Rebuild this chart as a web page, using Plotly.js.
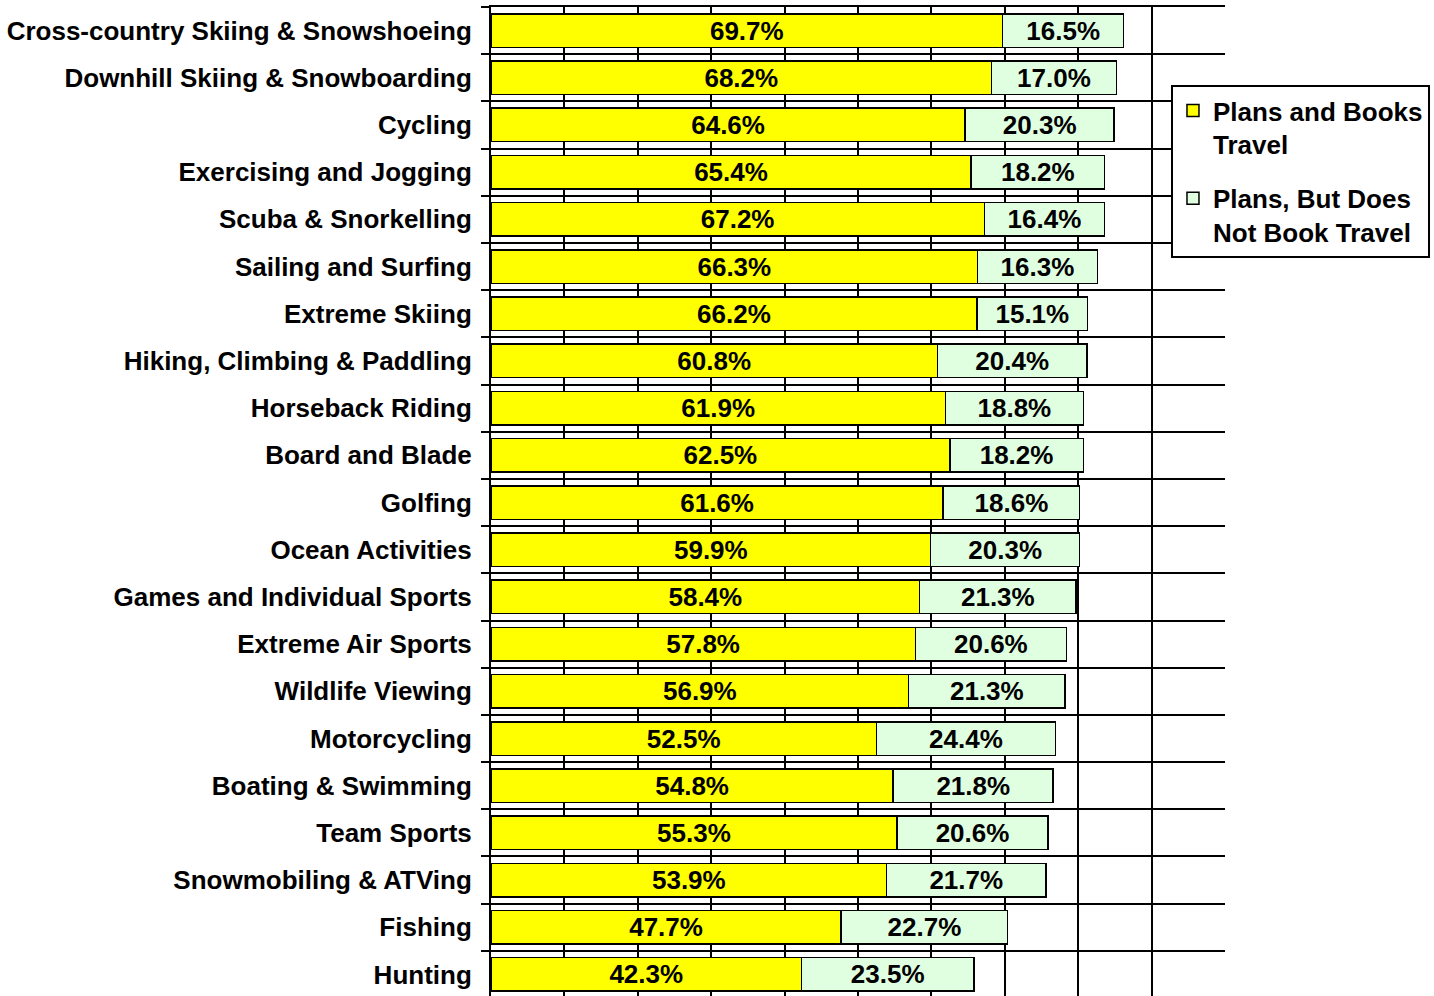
<!DOCTYPE html>
<html>
<head>
<meta charset="utf-8">
<script src="https://cdn.plot.ly/plotly-3.0.1.min.js"></script>
<style>
html, body { margin: 0; padding: 0; background: #ffffff; }
#chart { width: 1434px; height: 996px; }
</style>
</head>
<body>
<div id="chart"></div>
<script>
var categories = [
  "Cross-country Skiing & Snowshoeing",
  "Downhill Skiing & Snowboarding",
  "Cycling",
  "Exercising and Jogging",
  "Scuba & Snorkelling",
  "Sailing and Surfing",
  "Extreme Skiing",
  "Hiking, Climbing & Paddling",
  "Horseback Riding",
  "Board and Blade",
  "Golfing",
  "Ocean Activities",
  "Games and Individual Sports",
  "Extreme Air Sports",
  "Wildlife Viewing",
  "Motorcycling",
  "Boating & Swimming",
  "Team Sports",
  "Snowmobiling & ATVing",
  "Fishing",
  "Hunting"
];
var plansAndBooks = [69.7, 68.2, 64.6, 65.4, 67.2, 66.3, 66.2, 60.8, 61.9, 62.5, 61.6, 59.9, 58.4, 57.8, 56.9, 52.5, 54.8, 55.3, 53.9, 47.7, 42.3];
var plansNotBook = [16.5, 17.0, 20.3, 18.2, 16.4, 16.3, 15.1, 20.4, 18.8, 18.2, 18.6, 20.3, 21.3, 20.6, 21.3, 24.4, 21.8, 20.6, 21.7, 22.7, 23.5];
var seriesNames = ["Plans and Books<br>Travel", "Plans, But Does<br>Not Book Travel"];

var FONT = "Liberation Sans, Arial, sans-serif";
var FS = 26;
function labels(arr) { return arr.map(function (v) { return v.toFixed(1) + "%"; }); }

var traces = [
  {
    type: "bar", orientation: "h", name: seriesNames[0], legendgroup: "g1",
    y: categories, x: plansAndBooks,
    text: labels(plansAndBooks), textposition: "inside", insidetextanchor: "middle",
    constraintext: "none", textangle: 0,
    textfont: { family: FONT, size: FS, color: "#000000", weight: 700 },
    marker: { color: "#FFFF00", line: { color: "#000000", width: 1.5 } },
    hoverinfo: "skip"
  },
  {
    type: "bar", orientation: "h", name: seriesNames[1], legendgroup: "g2",
    y: categories, x: plansNotBook,
    text: labels(plansNotBook), textposition: "inside", insidetextanchor: "middle",
    constraintext: "none", textangle: 0,
    textfont: { family: FONT, size: FS, color: "#000000", weight: 700 },
    marker: { color: "#E0FFE0", line: { color: "#000000", width: 1.5 } },
    hoverinfo: "skip"
  }
];

var layout = {
  width: 1434, height: 996,
  paper_bgcolor: "#ffffff", plot_bgcolor: "#ffffff",
  barmode: "stack", bargap: 0.29,
  margin: { l: 491, r: 209, t: 7, b: 0, autoexpand: false },
  font: { family: FONT, size: FS, color: "#000000", weight: 700 },
  showlegend: true,
  legend: {
    x: 0.9264, y: 0.921, xanchor: "left", yanchor: "top",
    bgcolor: "#ffffff", bordercolor: "#000000", borderwidth: 2,
    font: { family: FONT, size: FS, color: "#000000", weight: 700 },
    traceorder: "grouped", tracegroupgap: 17, valign: "top"
  },
  xaxis: {
    range: [0, 100], dtick: 10, side: "top",
    showgrid: true, gridcolor: "#000000", gridwidth: 2,
    showticklabels: false, ticks: "", zeroline: false,
    showline: true, linecolor: "#000000", linewidth: 2
  },
  yaxis: {
    type: "category", range: [20.456, -0.5],
    tickson: "boundaries", ticks: "outside", ticklen: 8, tickwidth: 2, tickcolor: "#000000",
    ticklabelstandoff: 12,
    showgrid: true, gridcolor: "#000000", gridwidth: 2,
    showline: true, linecolor: "#000000", linewidth: 2,
    tickfont: { family: FONT, size: FS, color: "#000000", weight: 700 },
    automargin: false
  }
};

Plotly.newPlot("chart", traces, layout, { displayModeBar: false, staticPlot: true });
</script>
</body>
</html>
